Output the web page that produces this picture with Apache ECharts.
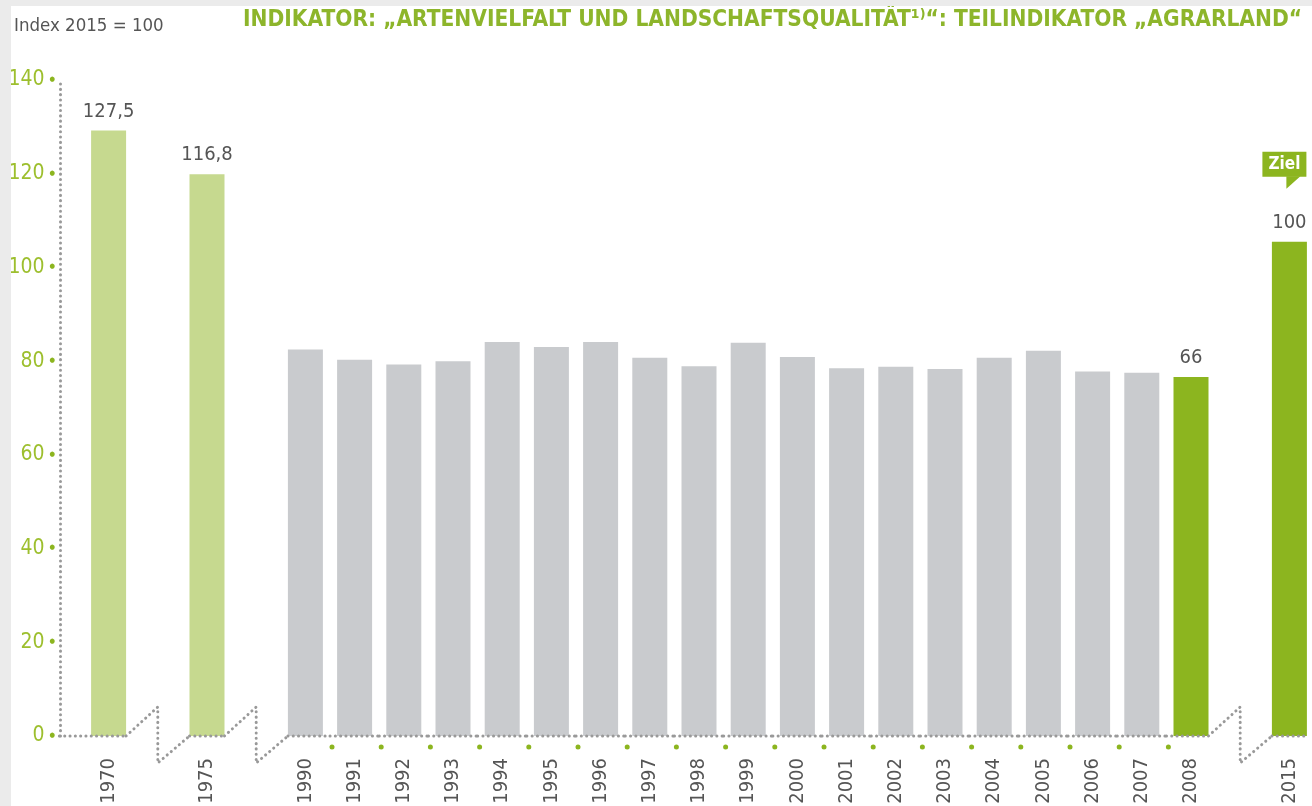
<!DOCTYPE html>
<html><head><meta charset="utf-8">
<script src="https://cdn.jsdelivr.net/npm/echarts@6/dist/echarts.min.js"></script>
<style>
html,body{margin:0;padding:0;background:#ebebeb;width:1312px;height:806px;overflow:hidden}
#c{position:absolute;left:11px;top:6px;width:1301px;height:800px;background:#fff}
</style></head><body><div id="c"></div>
<script>
// ---- data ----
const years = ['1970','1975','1990','1991','1992','1993','1994','1995','1996','1997','1998','1999','2000','2001','2002','2003','2004','2005','2006','2007','2008','2015'];
const values = [129.2,119.9,82.5,80.3,79.3,80.0,84.1,83.0,84.1,80.7,78.9,83.9,80.9,78.5,78.8,78.3,80.7,82.2,77.8,77.5,76.6,105.5];
const valueLabels = ['127,5','116,8',null,null,null,null,null,null,null,null,null,null,null,null,null,null,null,null,null,null,'66','100'];
const breakAfter = ['1970','1975','2008'];
const highlightYears = ['2008','2015'];
const targetYear = '2015';
const targetText = 'Ziel';
const unitText = 'Index 2015 = 100';
const titleText = 'INDIKATOR: \u201EARTENVIELFALT UND LANDSCHAFTSQUALITÄT\u00B9\u207E\u201C: TEILINDIKATOR \u201EAGRARLAND\u201C';
const yMin = 0, yMax = 140, yStep = 20;

// ---- styles ----
const FONT = "'Liberation Sans Narrow','DejaVu Sans Condensed',sans-serif";
const LIGHT = '#c6d98f', GRAY = '#c9cbce', DARK = '#8cb51f', AXISGREEN = '#9dbf2e', TXT = '#555555', DOTGRAY = '#999999';
const BAR_W = 35;

const cats = [], barData = [], decoData = [];
years.forEach((y, i) => {
  const color = (+y < 1990) ? LIGHT : (highlightYears.includes(y) ? DARK : GRAY);
  const item = { value: values[i], itemStyle: { color } };
  if (valueLabels[i] !== null) item.label = { show: true, formatter: valueLabels[i] };
  decoData.push([cats.length, values[i]]);
  cats.push(y); barData.push(item);
  if (breakAfter.includes(y)) { decoData.push([cats.length, 0]); cats.push(''); barData.push('-'); }
});

const dotStyle = { stroke: DOTGRAY, lineWidth: 3, lineDash: [0.1, 5.2], lineCap: 'round', fill: null };

function renderDeco(params, api) {
  const idx = api.value(0);
  const cat = cats[idx];
  const c = api.coord([idx, 0]);
  const slot = api.size([1, 0])[0];
  const bw = BAR_W / 2;
  const ch = [];
  if (cat === '') {
    const x0 = c[0] - slot + bw, x1 = c[0] + slot - bw;
    ch.push({ type: 'polyline', shape: { points: [[x0, c[1]], [c[0], c[1] - 29], [c[0], c[1] + 27], [x1, c[1]]] }, style: dotStyle });
  } else {
    const prevBlank = idx > 0 && cats[idx - 1] === '';
    const nextBlank = idx === cats.length - 1 || cats[idx + 1] === '';
    const l = idx === 0 ? c[0] - slot : (prevBlank ? c[0] - bw : c[0] - slot / 2);
    const r = nextBlank ? c[0] + bw : c[0] + slot / 2;
    ch.push({ type: 'line', shape: { x1: l, y1: c[1], x2: r, y2: c[1] }, style: dotStyle });
    if (idx > 0 && !prevBlank) ch.push({ type: 'circle', shape: { cx: c[0] - slot / 2 + 2, cy: c[1] + 11, r: 2.5 }, style: { fill: DARK } });
    if (cat === targetYear) {
      const p = api.coord([idx, api.value(1)]);
      const by = p[1] - 65;
      ch.push({ type: 'rect', shape: { x: p[0] - 27, y: by - 25, width: 44, height: 25 }, style: { fill: DARK } });
      ch.push({ type: 'polygon', shape: { points: [[p[0] - 3, by - 0.5], [p[0] + 11, by - 0.5], [p[0] - 3, by + 12]] }, style: { fill: DARK } });
      ch.push({ type: 'text', style: { x: p[0] - 5, y: by - 12.5, text: targetText, align: 'center', verticalAlign: 'middle', fill: '#fff', font: "bold 17px " + FONT } });
    }
  }
  return { type: 'group', children: ch };
}

const chart = echarts.init(document.getElementById('c'), null, { renderer: 'canvas' });
chart.setOption({
  animation: false,
  backgroundColor: '#ffffff',
  textStyle: { fontFamily: FONT },
  title: [
    { text: unitText, left: 3, top: 11, padding: 0, textStyle: { fontFamily: FONT, fontSize: 18.5, fontWeight: 'normal', color: TXT } },
    { text: titleText, left: 232, top: 3, padding: 0, textStyle: { fontFamily: FONT, fontSize: 22.5, fontWeight: 'bold', color: '#8db52b' } }
  ],
  grid: { left: 73, right: -2, top: 74, bottom: 70, containLabel: false, outerBoundsMode: 'none' },
  xAxis: {
    type: 'category', data: cats,
    axisLine: { show: false }, axisTick: { show: false }, splitLine: { show: false },
    axisLabel: { interval: 0, rotate: 90, margin: 22, color: TXT, fontSize: 20, fontFamily: FONT }
  },
  yAxis: {
    type: 'value', min: yMin, max: yMax, interval: yStep, offset: 24,
    axisLine: { show: true, lineStyle: { color: DOTGRAY, width: 3, type: [0.1, 5.2], cap: 'round' } },
    axisTick: { show: false }, splitLine: { show: false },
    axisLabel: {
      margin: 5,
      formatter: v => '{v|' + v + '}{d|\u25CF}',
      rich: {
        v: { fontSize: 21, color: AXISGREEN, fontFamily: FONT },
        d: { fontSize: 7, color: DARK, padding: [0, 0, 2, 5] }
      }
    }
  },
  series: [
    {
      type: 'bar', data: barData, barWidth: BAR_W, z: 2,
      label: { show: false, position: 'top', distance: 9, color: TXT, fontSize: 20, fontFamily: FONT }
    },
    {
      type: 'custom', data: decoData, renderItem: renderDeco, z: 3, silent: true,
      encode: { x: 0, y: 1 }
    }
  ]
});
</script></body></html>
